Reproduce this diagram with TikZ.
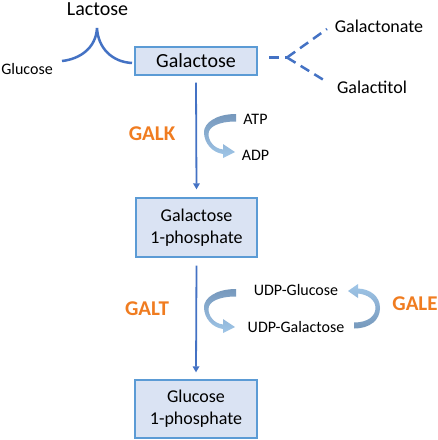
\documentclass[tikz,border=0pt]{standalone}
\usepackage{fontspec}
\setmainfont{Carlito}
\usetikzlibrary{arrows.meta}
\definecolor{lineblue}{RGB}{68,114,196}
\definecolor{boxborder}{RGB}{91,155,213}
\definecolor{boxfill}{RGB}{218,227,243}
\definecolor{enzorange}{RGB}{240,124,32}
\definecolor{cycdark}{RGB}{118,152,188}
\definecolor{cyclight}{RGB}{160,198,232}
\begin{document}
\begin{tikzpicture}[x=1pt,y=-1pt,
  box/.style={draw=boxborder,line width=1.3pt,fill=boxfill,inner sep=0pt,align=center},
  boxtext/.style={font=\fontsize{18}{22}\selectfont},
  flow/.style={draw=lineblue,line width=1.8pt,-{Triangle[width=6.5pt,length=6pt]}},
  bracketline/.style={draw=lineblue,line width=2.5pt},
  dashline/.style={draw=lineblue,line width=2.5pt,dash pattern=on 10pt off 6pt},
  enzyme/.style={anchor=base,text=enzorange,font=\fontsize{21}{25}\selectfont\bfseries},
  small/.style={anchor=base,font=\fontsize{16}{19}\selectfont},
  label/.style={anchor=base,font=\fontsize{18}{22}\selectfont},
  udp/.style={anchor=base,font=\fontsize{16}{19}\selectfont},
  cycdown/.style={top color=cycdark,bottom color=cyclight},
  cycup/.style={top color=cyclight,bottom color=cycdark}]
\useasboundingbox[fill=white] (0,0) rectangle (438,440);

% texts
\node[anchor=base,font=\fontsize{20}{24}\selectfont] (lactose) at (97.5,15) {Lactose};
\node[anchor=base,font=\fontsize{16}{19}\selectfont] (glucose) at (27,74) {Glucose};
\node[label] (galactonate) at (379,32) {Galactonate};
\node[label] (galactitol) at (372,93) {Galactitol};

% boxes
\node[box,minimum width=122pt,minimum height=28pt,font=\fontsize{20}{24}\selectfont] (gal) at (196,61) {Galactose};
\node[box,minimum width=121pt,minimum height=59pt,boxtext] (gal1p) at (196.5,227.5) {Galactose\\1-phosphate};
\node[box,minimum width=122pt,minimum height=58pt,boxtext] (glc1p) at (196,409) {Glucose\\1-phosphate};

% lactose bracket
\coordinate (lacL) at (62,61);
\coordinate (lacP) at (97,28);
\coordinate (lacR) at (132,63);
\draw[bracketline] (lacL) .. controls (80,59) and (96,48) .. (lacP)
  .. controls (98,48) and (112,62) .. (lacR);

% dashed fork
\coordinate (dstart) at (269,57.5);
\coordinate (fork) at (287,57.5);
\coordinate (dup) at (327,29);
\coordinate (ddn) at (327,82);
\draw[dashline] (dstart) -- (fork);
\draw[dashline] (fork) -- (dup);
\draw[dashline] (fork) -- (ddn);

% main arrows
\draw[flow] ([yshift=-7pt]gal.south) -- ([yshift=8pt]gal1p.north);
\draw[flow] ([yshift=-8pt]gal1p.south) -- ([yshift=7pt]glc1p.north);

% enzymes
\node[enzyme] (galk) at (152,140) {GALK};
\node[enzyme] (galt) at (147,315) {GALT};
\node[enzyme] (gale) at (415,310) {GALE};

% cofactors
\node[small] (atp) at (255.5,124) {ATP};
\node[small] (adp) at (255.5,160) {ADP};
\node[udp] (udpglc) at (296,295) {UDP-Glucose};
\node[udp] (udpgal) at (296,332) {UDP-Galactose};

% curved arrows
\shade[cycdown]
 (236,114) .. controls (216,114) and (204,123) .. (204,132)
 .. controls (204,143) and (212,152.5) .. (223,154)
 -- (223,158) -- (235,152) -- (223,144) -- (223,149.5)
 .. controls (214,148.5) and (208.5,141) .. (208.5,134)
 .. controls (208.5,127) and (218,121.5) .. (236,121.5) -- cycle;
\begin{scope}[shift={(0,175)}]
\shade[cycdown]
 (236,114) .. controls (216,114) and (204,123) .. (204,132)
 .. controls (204,143) and (212,152.5) .. (223,154)
 -- (223,158) -- (235,152) -- (223,144) -- (223,149.5)
 .. controls (214,148.5) and (208.5,141) .. (208.5,134)
 .. controls (208.5,127) and (218,121.5) .. (236,121.5) -- cycle;
\end{scope}
\shade[cycup]
 (354,322.5) -- (354,328.5)
 .. controls (370,328.5) and (380,320) .. (380,308)
 .. controls (380,296) and (370,289) .. (358,288.5)
 -- (358,284) -- (348,291) -- (358,298) -- (358,293.5)
 .. controls (368,294.5) and (375.5,300) .. (375.5,308)
 .. controls (375.5,316) and (368,322.5) .. (354,322.5) -- cycle;
\end{tikzpicture}
\end{document}
